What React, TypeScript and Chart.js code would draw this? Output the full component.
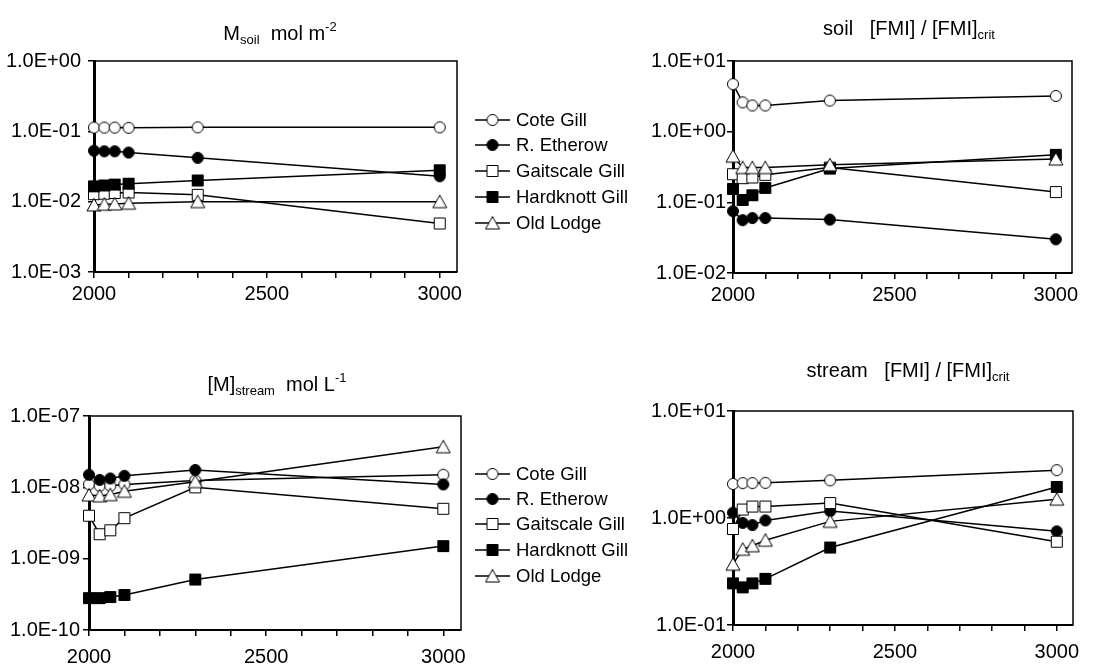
import React, { useEffect, useRef } from 'react';
import { Chart, registerables } from 'chart.js';
Chart.register(...registerables);

const years = [2000, 2030, 2060, 2100, 2300, 3000];
const seriesNames = ['Cote Gill', 'R. Etherow', 'Gaitscale Gill', 'Hardknott Gill', 'Old Lodge'];

// Panel 1: M soil (mol m-2)
const mSoilCote = [0.113, 0.113, 0.113, 0.112, 0.114, 0.114];
const mSoilEtherow = [0.053, 0.052, 0.052, 0.050, 0.042, 0.023];
const mSoilGaitscale = [0.0128, 0.013, 0.0133, 0.0135, 0.0125, 0.0049];
const mSoilHardknott = [0.0165, 0.017, 0.0175, 0.018, 0.020, 0.028];
const mSoilOldLodge = [0.009, 0.0092, 0.0093, 0.0095, 0.0100, 0.0100];

// Panel 2: soil [FMI]/[FMI]crit
const fmiSoilCote = [4.7, 2.6, 2.35, 2.35, 2.75, 3.2];
const fmiSoilEtherow = [0.075, 0.056, 0.06, 0.06, 0.057, 0.03];
const fmiSoilGaitscale = [0.25, 0.22, 0.225, 0.245, 0.31, 0.14];
const fmiSoilHardknott = [0.155, 0.108, 0.126, 0.16, 0.30, 0.47];
const fmiSoilOldLodge = [0.45, 0.31, 0.31, 0.31, 0.34, 0.41];

// Panel 3: [M]stream (mol L-1)
const mStreamCote = [1.1e-8, 1.05e-8, 1.05e-8, 1.1e-8, 1.25e-8, 1.5e-8];
const mStreamEtherow = [1.5e-8, 1.27e-8, 1.33e-8, 1.45e-8, 1.75e-8, 1.1e-8];
const mStreamGaitscale = [4.0e-9, 2.2e-9, 2.5e-9, 3.7e-9, 1.0e-8, 5.0e-9];
const mStreamHardknott = [2.8e-10, 2.8e-10, 2.9e-10, 3.1e-10, 5.1e-10, 1.5e-9];
const mStreamOldLodge = [7.8e-9, 7.6e-9, 7.9e-9, 8.8e-9, 1.2e-8, 3.7e-8];

// Panel 4: stream [FMI]/[FMI]crit
const fmiStreamCote = [2.08, 2.12, 2.12, 2.13, 2.25, 2.8];
const fmiStreamEtherow = [1.12, 0.9, 0.86, 0.95, 1.16, 0.75];
const fmiStreamGaitscale = [0.79, 1.2, 1.28, 1.28, 1.38, 0.6];
const fmiStreamHardknott = [0.245, 0.225, 0.245, 0.27, 0.53, 1.95];
const fmiStreamOldLodge = [0.37, 0.51, 0.55, 0.62, 0.93, 1.5];

const xTicks = [2000, 2100, 2200, 2300, 2400, 2500, 2600, 2700, 2800, 2900, 3000];
const yTicksP1 = [1e-3, 1e-2, 1e-1, 1];
const yTicksP2 = [1e-2, 1e-1, 1, 10];
const yTicksP3 = [1e-10, 1e-9, 1e-8, 1e-7];
const yTicksP4 = [1e-1, 1, 10];

const FONT = '"Liberation Sans", Arial, sans-serif';

type Marker = { style: 'circle' | 'rect' | 'triangle'; fill: string };
const markers: Marker[] = [
  { style: 'circle', fill: '#ffffff' },
  { style: 'circle', fill: '#000000' },
  { style: 'rect', fill: '#ffffff' },
  { style: 'rect', fill: '#000000' },
  { style: 'triangle', fill: '#ffffff' },
];

const markerCache: HTMLCanvasElement[] = [];
function markerImage(i: number): HTMLCanvasElement {
  if (markerCache[i]) return markerCache[i];
  const mk = markers[i];
  const c = document.createElement('canvas');
  c.width = 16;
  c.height = 16;
  const ctx = c.getContext('2d')!;
  const cx = 8, cy = 8;
  ctx.fillStyle = mk.fill;
  ctx.strokeStyle = '#000';
  ctx.lineWidth = 1;
  ctx.beginPath();
  if (mk.style === 'circle') {
    ctx.arc(cx, cy, 5.5, 0, Math.PI * 2);
  } else if (mk.style === 'rect') {
    ctx.rect(cx - 5.5, cy - 5.5, 11, 11);
  } else {
    ctx.moveTo(cx, cy - 6.5);
    ctx.lineTo(cx + 7, cy + 6);
    ctx.lineTo(cx - 7, cy + 6);
    ctx.closePath();
  }
  ctx.fill();
  ctx.stroke();
  markerCache[i] = c;
  return c;
}

function sci(v: number): string {
  const e = Math.round(Math.log10(v));
  const m = v / Math.pow(10, e);
  return m.toFixed(1) + 'E' + (e < 0 ? '-' : '+') + String(Math.abs(e)).padStart(2, '0');
}

type PanelCfg = {
  series: number[][];
  yMin: number;
  yMax: number;
  yTicks: number[];
  width: number;
  height: number;
  area: { left: number; top: number; right: number; bottom: number };
  yPad: number;
  xPad: number;
  legend?: { x0: number; x1: number; textX: number; ys: number[] };
};

function makeChart(canvas: HTMLCanvasElement, cfg: PanelCfg): Chart {
  const framePlugin = {
    id: 'frame',
    beforeDatasetsDraw(chart: any) {
      const { ctx, chartArea } = chart;
      ctx.save();
      ctx.strokeStyle = '#000';
      ctx.lineWidth = 1.5;
      ctx.beginPath();
      ctx.moveTo(chartArea.left, chartArea.top);
      ctx.lineTo(chartArea.right, chartArea.top);
      ctx.lineTo(chartArea.right, chartArea.bottom);
      ctx.stroke();
      ctx.restore();
    },
    afterDraw(chart: any) {
      if (!cfg.legend) return;
      const { ctx } = chart;
      const lg = cfg.legend;
      ctx.save();
      ctx.font = '18.5px ' + FONT;
      ctx.textBaseline = 'middle';
      ctx.textAlign = 'left';
      seriesNames.forEach((name, i) => {
        const y = lg.ys[i];
        ctx.strokeStyle = '#000';
        ctx.lineWidth = 1.5;
        ctx.beginPath();
        ctx.moveTo(lg.x0, y);
        ctx.lineTo(lg.x1, y);
        ctx.stroke();
        const img = markerImage(i);
        ctx.drawImage(img, (lg.x0 + lg.x1) / 2 - img.width / 2, y - img.height / 2);
        ctx.fillStyle = '#000';
        ctx.fillText(name, lg.textX, y + 1);
      });
      ctx.restore();
    },
  };

  const datasets = cfg.series.map((vals, i) => ({
    label: seriesNames[i],
    data: years.map((x, j) => ({ x, y: vals[j] })),
    borderColor: '#000',
    borderWidth: 1.5,
    backgroundColor: markers[i].fill,
    pointStyle: markerImage(i),
    pointRadius: 6,
    pointBackgroundColor: markers[i].fill,
    pointBorderColor: '#000',
    pointBorderWidth: 1,
    tension: 0,
    fill: false,
    clip: false as any,
    order: cfg.series.length - i,
  }));

  return new Chart(canvas, {
    type: 'line',
    data: { datasets },
    plugins: [framePlugin],
    options: {
      responsive: false,
      animation: false,
      devicePixelRatio: 1,
      layout: {
        padding: { left: 0, top: cfg.area.top, right: cfg.width - cfg.area.right, bottom: 0 },
      },
      plugins: { legend: { display: false }, tooltip: { enabled: false }, title: { display: false } },
      scales: {
        x: {
          type: 'linear',
          min: 2000,
          max: 3050,
          afterFit: (s: any) => { s.height = cfg.height - cfg.area.bottom; },
          afterBuildTicks: (s: any) => { s.ticks = xTicks.map((v) => ({ value: v })); },
          ticks: {
            autoSkip: false,
            maxRotation: 0,
            padding: cfg.xPad,
            color: '#000',
            font: { family: FONT, size: 20 },
            callback: (v: any) => (Number(v) % 500 === 0 ? String(v) : ''),
          },
          grid: { drawOnChartArea: false, drawTicks: true, tickLength: 6, color: '#000', lineWidth: 1.5 },
          border: { display: true, color: '#000', width: 2 },
        },
        y: {
          type: 'logarithmic',
          min: cfg.yMin,
          max: cfg.yMax,
          afterFit: (s: any) => { s.width = cfg.area.left; },
          afterBuildTicks: (s: any) => { s.ticks = cfg.yTicks.map((v) => ({ value: v })); },
          ticks: {
            autoSkip: false,
            padding: cfg.yPad,
            color: '#000',
            font: { family: FONT, size: 20 },
            callback: (v: any) => sci(Number(v)),
          },
          grid: { drawOnChartArea: false, drawTicks: true, tickLength: 6, color: '#000', lineWidth: 1.5 },
          border: { display: true, color: '#000', width: 3 },
        },
      },
    } as any,
  });
}

function Panel(props: { left: number; top: number; cfg: PanelCfg }) {
  const ref = useRef<HTMLCanvasElement | null>(null);
  useEffect(() => {
    if (!ref.current) return;
    const ch = makeChart(ref.current, props.cfg);
    return () => ch.destroy();
  }, []);
  return (
    <canvas
      ref={ref}
      width={props.cfg.width}
      height={props.cfg.height}
      style={{ position: 'absolute', left: props.left, top: props.top, width: props.cfg.width, height: props.cfg.height }}
    />
  );
}

function Title(props: { cx: number; top: number; children: React.ReactNode }) {
  return (
    <div
      style={{
        position: 'absolute',
        left: props.cx - 200,
        top: props.top,
        width: 400,
        height: 24,
        lineHeight: '24px',
        textAlign: 'center',
        fontFamily: FONT,
        fontSize: 20,
        color: '#000',
        whiteSpace: 'pre',
      }}
    >
      {props.children}
    </div>
  );
}

const subStyle: React.CSSProperties = { fontSize: 13, verticalAlign: '-4px' };
const supStyle: React.CSSProperties = { fontSize: 13, verticalAlign: '9px' };

export default function App() {
  const p1: PanelCfg = {
    series: [mSoilCote, mSoilEtherow, mSoilGaitscale, mSoilHardknott, mSoilOldLodge],
    yMin: 1e-3, yMax: 1, yTicks: yTicksP1,
    width: 640, height: 330,
    area: { left: 94, top: 61, right: 457, bottom: 272 },
    yPad: 7, xPad: 4,
    legend: { x0: 475, x1: 510, textX: 516, ys: [120, 145, 171, 197, 223] },
  };
  const p2: PanelCfg = {
    series: [fmiSoilCote, fmiSoilEtherow, fmiSoilGaitscale, fmiSoilHardknott, fmiSoilOldLodge],
    yMin: 1e-2, yMax: 10, yTicks: yTicksP2,
    width: 519, height: 330,
    area: { left: 133, top: 61, right: 472, bottom: 273 },
    yPad: 1, xPad: 4,
  };
  const p3: PanelCfg = {
    series: [mStreamCote, mStreamEtherow, mStreamGaitscale, mStreamHardknott, mStreamOldLodge],
    yMin: 1e-10, yMax: 1e-7, yTicks: yTicksP3,
    width: 640, height: 334,
    area: { left: 89, top: 86, right: 461, bottom: 300 },
    yPad: 3, xPad: 9,
    legend: { x0: 475, x1: 510, textX: 516, ys: [144, 169, 194, 220, 246] },
  };
  const p4: PanelCfg = {
    series: [fmiStreamCote, fmiStreamEtherow, fmiStreamGaitscale, fmiStreamHardknott, fmiStreamOldLodge],
    yMin: 1e-1, yMax: 10, yTicks: yTicksP4,
    width: 519, height: 334,
    area: { left: 133, top: 81, right: 473, bottom: 295 },
    yPad: 1, xPad: 9,
  };
  return (
    <div style={{ position: 'fixed', left: 0, top: 0, width: 1119, height: 664, background: '#fff', overflow: 'hidden' }}>
      <Panel left={0} top={0} cfg={p1} />
      <Panel left={600} top={0} cfg={p2} />
      <Panel left={0} top={330} cfg={p3} />
      <Panel left={600} top={330} cfg={p4} />
      <Title cx={280} top={15}>M<span style={subStyle}>soil</span>{'  mol m'}<span style={supStyle}>-2</span></Title>
      <Title cx={909} top={16}>{'soil   [FMI] / [FMI]'}<span style={subStyle}>crit</span></Title>
      <Title cx={277} top={366}>[M]<span style={subStyle}>stream</span>{'  mol L'}<span style={supStyle}>-1</span></Title>
      <Title cx={908} top={358}>{'stream   [FMI] / [FMI]'}<span style={subStyle}>crit</span></Title>
    </div>
  );
}
